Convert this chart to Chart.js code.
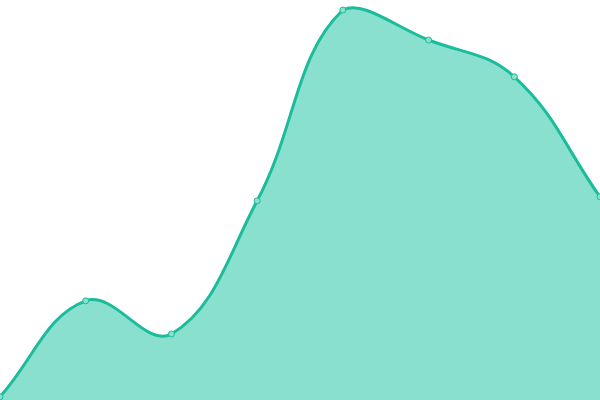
<!DOCTYPE html>
<html lang="en">
<head>
    <meta charset="UTF-8">
    <title>Area Chart</title>
    <script src="https://cdn.jsdelivr.net/npm/chart.js"></script>
    <style>
        html, body { margin: 0; padding: 0; background: #fff; }
        #wrap { width: 600px; height: 400px; }
    </style>
</head>
<body>
    <div id="wrap"><canvas id="areaChart"></canvas></div>
    <script>
        const labels = ['1', '2', '3', '4', '5', '6', '7', '8'];
        const values = [0.8, 24.8, 16.5, 49.8, 97.5, 90, 80.8, 50.8];

        const ctx = document.getElementById('areaChart').getContext('2d');
        new Chart(ctx, {
            type: 'line',
            data: {
                labels: labels,
                datasets: [{
                    data: values,
                    fill: true,
                    backgroundColor: '#89e0cf',
                    borderColor: '#1abc9c',
                    borderWidth: 3,
                    tension: 0.4,
                    pointRadius: 3,
                    pointBackgroundColor: '#89e0cf',
                    pointBorderColor: '#1abc9c',
                    pointBorderWidth: 1
                }]
            },
            options: {
                responsive: true,
                maintainAspectRatio: false,
                animation: false,
                layout: { padding: 0, autoPadding: false },
                plugins: {
                    legend: { display: false },
                    tooltip: { enabled: false }
                },
                scales: {
                    x: { display: false },
                    y: { display: false, min: 0, max: 100 }
                }
            }
        });
    </script>
</body>
</html>
